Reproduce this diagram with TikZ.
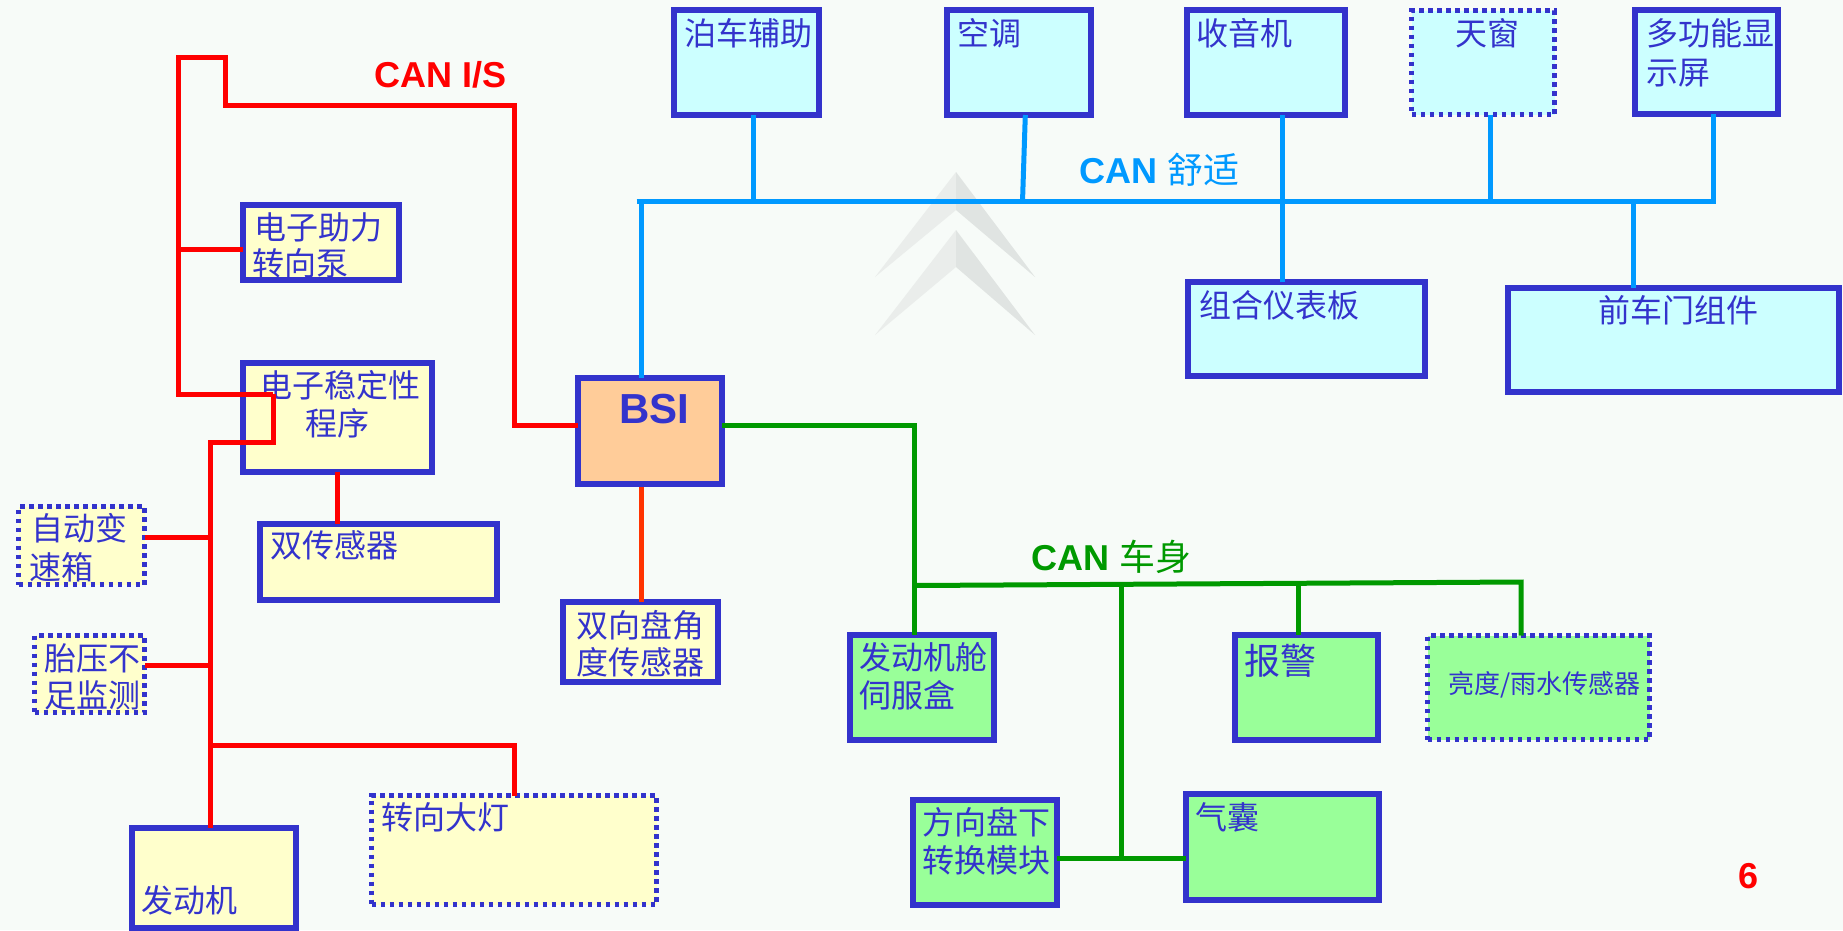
\documentclass[tikz,border=0pt]{standalone}
\usepackage{fontspec}
\setmainfont{Liberation Sans}
\newfontfamily\cjk{Noto Sans CJK SC}
\usetikzlibrary{calc}

\definecolor{bg}{RGB}{247,251,248}
\definecolor{bord}{RGB}{51,51,204}
\definecolor{fcyan}{RGB}{204,255,255}
\definecolor{fyel}{RGB}{255,255,204}
\definecolor{fgrn}{RGB}{153,255,153}
\definecolor{fpeach}{RGB}{255,204,153}
\definecolor{lred}{RGB}{255,0,0}
\definecolor{lorg}{RGB}{255,51,0}
\definecolor{lcyan}{RGB}{0,153,255}
\definecolor{lgrn}{RGB}{0,153,0}
\definecolor{wmA}{RGB}{234,237,235}
\definecolor{wmB}{RGB}{224,228,226}

\tikzset{
  box/.style={draw=bord, line width=6pt, inner sep=0pt, outer sep=0pt},
  dotbox/.style={draw=bord, line width=5pt, dash pattern=on 4.5pt off 4.5pt, inner sep=0pt, outer sep=0pt},
  cy/.style={fill=fcyan}, ye/.style={fill=fyel}, gr/.style={fill=fgrn}, pe/.style={fill=fpeach},
  lbl/.style={text=bord, inner sep=0pt, anchor=base west, font={\fontsize{32}{38}\cjk}},
  buslbl/.style={inner sep=0pt, anchor=base west, font={\fontsize{36}{40}\selectfont\bfseries}},
  redbus/.style={draw=lred, line width=5pt},
  orgbus/.style={draw=lorg, line width=5pt},
  cyanbus/.style={draw=lcyan, line width=5pt},
  grnbus/.style={draw=lgrn, line width=5pt},
}

\begin{document}
\begin{tikzpicture}[x=1pt, y=-1pt]
\useasboundingbox (0,0) rectangle (1843,930);
\fill[bg] (0,0) rectangle (1843,930);

% watermark chevrons
\fill[wmA] (956,172) -- (875,277) -- (956,210) -- cycle;
\fill[wmB] (956,172) -- (1035,277) -- (956,210) -- cycle;
\fill[wmA] (956,230) -- (875,335) -- (956,267) -- cycle;
\fill[wmB] (956,230) -- (1035,335) -- (956,267) -- cycle;

% top cyan boxes
\node[box,cy,minimum width=145pt,minimum height=105pt] (park) at (746.5,62.5) {};
\node[box,cy,minimum width=144pt,minimum height=105pt] (ac) at (1019,62.5) {};
\node[box,cy,minimum width=158pt,minimum height=105pt] (radio) at (1266,62.5) {};
\node[dotbox,cy,minimum width=143pt,minimum height=104pt] (roof) at (1483,62.5) {};
\node[box,cy,minimum width=143pt,minimum height=104pt] (mfd) at (1706.5,62) {};
\node[box,cy,minimum width=237pt,minimum height=94pt] (cluster) at (1306.5,329) {};
\node[box,cy,minimum width=331pt,minimum height=104pt] (door) at (1673.5,340) {};

% left yellow boxes
\node[box,ye,minimum width=156pt,minimum height=75pt] (eps) at (321,242.5) {};
\node[box,ye,minimum width=189pt,minimum height=109pt] (esp) at (337.5,417.5) {};
\node[box,ye,minimum width=237pt,minimum height=76pt] (dual) at (378,562) {};
\node[dotbox,ye,minimum width=126pt,minimum height=78pt] (gear) at (81.5,545.5) {};
\node[dotbox,ye,minimum width=110pt,minimum height=77pt] (tpms) at (89.5,674) {};
\node[box,ye,minimum width=164pt,minimum height=100pt] (engine) at (213.5,878) {};
\node[dotbox,ye,minimum width=285pt,minimum height=109pt] (lamp) at (514,850) {};
\node[box,ye,minimum width=155pt,minimum height=80pt] (swa) at (640.5,642) {};

% BSI
\node[box,pe,minimum width=144pt,minimum height=106pt] (bsi) at (650,431) {};

% green boxes
\node[box,gr,minimum width=144pt,minimum height=105pt] (bsm) at (922,687.5) {};
\node[box,gr,minimum width=143pt,minimum height=105pt] (alarm) at (1306.5,687.5) {};
\node[dotbox,gr,minimum width=222pt,minimum height=104pt] (rain) at (1538.5,687.5) {};
\node[box,gr,minimum width=144pt,minimum height=105pt] (cv) at (985,852.5) {};
\node[box,gr,minimum width=193pt,minimum height=106pt] (airbag) at (1282.5,847) {};

% texts
\node[lbl] (tpark) at (684,45) {泊车辅助};
\node[lbl] (tac) at (957,45) {空调};
\node[lbl] (tradio) at (1196,45) {收音机};
\node[lbl] (troof) at (1455,45) {天窗};
\node[lbl] (tmfdA) at (1646,45) {多功能显};
\node[lbl] (tmfdB) at (1646,84) {示屏};
\node[lbl] (tcluster) at (1199,317) {组合仪表板};
\node[lbl, anchor=base] (tdoor) at (1678,322) {前车门组件};
\node[lbl] (tepsA) at (254,239) {电子助力};
\node[lbl] (tepsB) at (252,275) {转向泵};
\node[lbl] (tespA) at (260,397) {电子稳定性};
\node[lbl] (tespB) at (305,435) {程序};
\node[lbl] (tdual) at (270,557) {双传感器};
\node[lbl] (tgearA) at (31,540) {自动变};
\node[lbl] (tgearB) at (29,579) {速箱};
\node[lbl] (ttpmsA) at (44,670) {胎压不};
\node[lbl] (ttpmsB) at (44,707) {足监测};
\node[lbl] (tengine) at (141,912) {发动机};
\node[lbl] (tlamp) at (381,829) {转向大灯};
\node[lbl] (tswaA) at (576,637) {双向盘角};
\node[lbl] (tswaB) at (576,674) {度传感器};
\node[lbl] (tbsmA) at (859,669) {发动机舱};
\node[lbl] (tbsmB) at (859,707) {伺服盒};
\node[lbl, font={\fontsize{36}{40}\cjk}] (talarm) at (1244,674) {报警};
\node[lbl, font={\fontsize{26}{30}\cjk}] (train) at (1448,693) {亮度/雨水传感器};
\node[lbl] (tcvA) at (922,834) {方向盘下};
\node[lbl] (tcvB) at (922,872) {转换模块};
\node[lbl] (tairbag) at (1195,829) {气囊};
\node[buslbl, text=bord, font={\fontsize{42}{46}\selectfont\bfseries}] (tbsi) at (619,423) {BSI};

% bus labels
\node[buslbl, text=lred] (canis) at (374,87) {CAN I/S};
\node[buslbl, text=lcyan] (cancomf) at (1079,183) {CAN {\cjk\mdseries 舒适}};
\node[buslbl, text=lgrn] (canbody) at (1031,570) {CAN {\cjk\mdseries 车身}};
\node[buslbl, text=lred] (pagenum) at (1738,888) {6};

% red CAN I/S
\coordinate (jA) at (178,394);
\coordinate (jB) at (273,394);
\coordinate (jC) at (273,442);
\coordinate (jD) at (210,442);
\coordinate (jE) at (178,249);
\coordinate (jF) at (210,537.7);
\coordinate (jG) at (210,665.7);
\coordinate (jH) at (210,745.7);
\coordinate (jI) at (514,745.7);
\coordinate (jT1) at (178,57);
\coordinate (jT2) at (225.4,57);
\coordinate (jT3) at (225.4,105.7);
\coordinate (jT4) at (514,105.7);
\coordinate (jT) at (514,425.7);
\coordinate (jS) at (641.7,487);
\draw[redbus] (jB) -- (jA) -- (jT1) -- (jT2) -- (jT3) -- (jT4) -- (jT) -- (jT -| bsi.west);
\draw[redbus] (jE) -- (jE -| eps.west);
\draw[redbus] (jB) -- (jC) -- (jD) -- (jD |- engine.north);
\draw[redbus] (jF) -- (jF -| gear.east);
\draw[redbus] (jG) -- (jG -| tpms.east);
\draw[redbus] (jH) -- (jI) -- (lamp.north);
\draw[redbus] (esp.south) -- (esp.south |- dual.north);
\draw[orgbus] (jS) -- (jS |- swa.north);

% cyan CAN comfort
\coordinate (cL) at (636.6,201.7);
\coordinate (cR) at (1713.8,201.7);
\coordinate (cB) at (641.7,201.7);
\coordinate (cP) at (753.6,201.7);
\coordinate (cA) at (1022.5,201.7);
\coordinate (cA2) at (1025.3,115);
\coordinate (cRa) at (1282,201.7);
\coordinate (cRo) at (1490,201.7);
\coordinate (cD) at (1633.9,201.7);
\draw[cyanbus] (cL) -- (cR) -- (cR |- mfd.south);
\draw[cyanbus] (cB) -- (cB |- bsi.north);
\draw[cyanbus] (cP |- park.south) -- (cP);
\draw[cyanbus] (cA2) -- (cA);
\draw[cyanbus] (cRa |- radio.south) -- (cRa |- cluster.north);
\draw[cyanbus] (cRo |- roof.south) -- (cRo);
\draw[cyanbus] (cD) -- (cD |- door.north);

% green CAN body
\coordinate (gK) at (914.6,425.7);
\coordinate (gL) at (914.6,585.5);
\coordinate (gR) at (1521,582);
\coordinate (gAl) at (1298,583.8);
\coordinate (gV) at (1121,584.4);
\coordinate (gW) at (1121,858);
\draw[grnbus] (gK -| bsi.east) -- (gK) -- (gK |- bsm.north);
\draw[grnbus] (gL) -- (gR) -- (gR |- rain.north);
\draw[grnbus] (gAl) -- (gAl |- alarm.north);
\draw[grnbus] (gV) -- (gW);
\draw[grnbus] (gW -| cv.east) -- (gW -| airbag.west);
\end{tikzpicture}
\end{document}
